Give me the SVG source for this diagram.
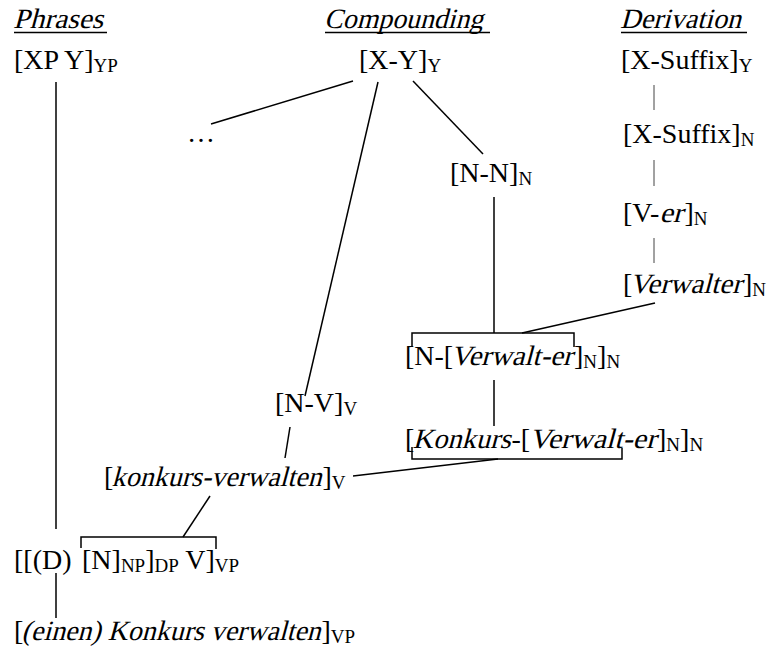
<svg xmlns="http://www.w3.org/2000/svg" width="771" height="647" viewBox="0 0 771 647">
<style>
.t{font-family:"Liberation Serif","Times New Roman",serif;font-size:28px;fill:#000}
.s{font-size:19px}
.c{stroke:#000;stroke-width:1.5;fill:none}
.g{stroke:#444;stroke-width:1;fill:none}
.ul{stroke:#000;stroke-width:1.4}
</style>
<rect width="771" height="647" fill="#fff"/>
<g id="connectors">
<line class="c" x1="56" y1="82" x2="56" y2="529"/>
<line class="c" x1="56" y1="573" x2="56" y2="618"/>
<line class="c" x1="353" y1="81" x2="211" y2="124"/>
<line class="c" x1="378" y1="82" x2="305" y2="396"/>
<line class="c" x1="413" y1="81" x2="483" y2="154"/>
<line class="c" x1="494" y1="197" x2="494" y2="333"/>
<path class="c" d="M412,347 V333 H574 V347"/>
<line class="c" x1="655" y1="303" x2="522" y2="333"/>
<line class="c" x1="494" y1="380" x2="494" y2="426"/>
<path class="c" d="M412,447 V459 H622 V448"/>
<line class="c" x1="498" y1="459" x2="353" y2="476"/>
<line class="c" x1="290" y1="427" x2="285" y2="458"/>
<line class="c" x1="210" y1="496" x2="183" y2="537"/>
<path class="c" d="M81,548 V537 H216 V549"/>
<line class="g" x1="654" y1="85" x2="654" y2="110"/>
<line class="g" x1="654" y1="160" x2="654" y2="186"/>
<line class="g" x1="654" y1="238" x2="654" y2="263"/>
</g>
<g id="h-phrases">
<text class="t" transform="translate(13,28) skewX(-15)" textLength="90" lengthAdjust="spacingAndGlyphs">Phrases</text>
<line class="ul" x1="14" y1="32.5" x2="107" y2="32.5"/>
</g>
<g id="h-compounding">
<text class="t" transform="translate(324,28) skewX(-15)" textLength="159" lengthAdjust="spacingAndGlyphs">Compounding</text>
<line class="ul" x1="325" y1="32.5" x2="490" y2="32.5"/>
</g>
<g id="h-derivation">
<text class="t" transform="translate(620,28) skewX(-15)" textLength="121" lengthAdjust="spacingAndGlyphs">Derivation</text>
<line class="ul" x1="621" y1="32.5" x2="747" y2="32.5"/>
</g>
<g id="n-xpy"><text class="t" x="14" y="69">[XP Y]<tspan class="s" dy="3">YP</tspan></text></g>
<g id="n-xy"><text class="t" x="359" y="69">[X-Y]<tspan class="s" dy="3">Y</tspan></text></g>
<g id="n-xsuffix-y"><text class="t" x="621" y="69">[X-Suffix]<tspan class="s" dy="3">Y</tspan></text></g>
<g id="n-xsuffix-n"><text class="t" x="623" y="143">[X-Suffix]<tspan class="s" dy="3">N</tspan></text></g>
<g id="n-ver">
<text class="t" x="623" y="222">[V-</text>
<text class="t" transform="translate(659.5,222) skewX(-15)" textLength="23.3" lengthAdjust="spacingAndGlyphs">er</text>
<text class="t" x="684.5" y="222">]<tspan class="s" dy="3">N</tspan></text>
</g>
<g id="n-verwalter">
<text class="t" x="623" y="293">[</text>
<text class="t" transform="translate(629.5,293) skewX(-15)" textLength="112" lengthAdjust="spacingAndGlyphs">Verwalter</text>
<text class="t" x="743" y="293">]<tspan class="s" dy="3">N</tspan></text>
</g>
<g id="n-dots"><text class="t" x="187" y="142">…</text></g>
<g id="n-nn"><text class="t" x="450" y="182">[N-N]<tspan class="s" dy="3">N</tspan></text></g>
<g id="n-n-verwalter">
<text class="t" x="405" y="365">[N-[</text>
<text class="t" transform="translate(450.5,365) skewX(-15)" textLength="122" lengthAdjust="spacingAndGlyphs">Verwalt-er</text>
<text class="t" x="574" y="365">]<tspan class="s" dy="3">N</tspan><tspan dy="-3">]</tspan><tspan class="s" dy="3">N</tspan></text>
</g>
<g id="n-konkursverwalter">
<text class="t" x="405" y="448">[</text>
<text class="t" transform="translate(412.5,448) skewX(-15)" textLength="98" lengthAdjust="spacingAndGlyphs">Konkurs</text>
<text class="t" x="511.5" y="448">-[</text>
<text class="t" transform="translate(529,448) skewX(-15)" textLength="127" lengthAdjust="spacingAndGlyphs">Verwalt-er</text>
<text class="t" x="657" y="448">]<tspan class="s" dy="3">N</tspan><tspan dy="-3">]</tspan><tspan class="s" dy="3">N</tspan></text>
</g>
<g id="n-nv"><text class="t" x="275" y="412">[N-V]<tspan class="s" dy="3">V</tspan></text></g>
<g id="n-konkurs-verwalten">
<text class="t" x="104" y="486">[</text>
<text class="t" transform="translate(111.5,486) skewX(-15)" textLength="210" lengthAdjust="spacingAndGlyphs">konkurs-verwalten</text>
<text class="t" x="322.5" y="486">]<tspan class="s" dy="3">V</tspan></text>
</g>
<g id="n-dnv">
<text class="t" x="14" y="569">[[(D)</text>
<text class="t" x="82" y="569">[N]<tspan class="s" dy="3">NP</tspan><tspan dy="-3">]</tspan><tspan class="s" dy="3">DP</tspan><tspan dy="-3"> V]</tspan><tspan class="s" dy="3">VP</tspan></text>
</g>
<g id="n-einen">
<text class="t" x="14" y="640">[</text>
<text class="t" transform="translate(21.5,640) skewX(-15)" textLength="299" lengthAdjust="spacingAndGlyphs">(einen) Konkurs verwalten</text>
<text class="t" x="321.5" y="640">]<tspan class="s" dy="3">VP</tspan></text>
</g>
</svg>
